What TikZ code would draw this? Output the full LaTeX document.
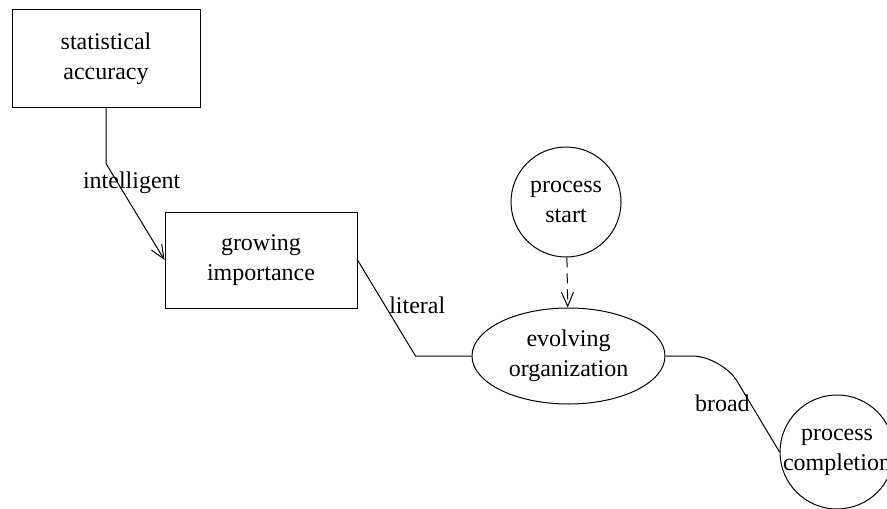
\documentclass[tikz,border=0pt]{standalone}
\usepackage{fontspec}
\setmainfont{Liberation Serif}
\usetikzlibrary{arrows.meta, shapes.geometric, positioning}

\begin{document}
\begin{tikzpicture}[x=0.5pt, y=-0.5pt, font=\fontsize{12}{15}\selectfont,
    box/.style={draw, rectangle, line width=0.5pt, align=center, minimum width=96pt, minimum height=48pt},
    oval/.style={draw, ellipse, line width=0.5pt, align=center, inner sep=0pt, minimum width=96.5pt, minimum height=48pt},
    round/.style={draw, circle, line width=0.5pt, align=center, inner sep=0pt},
    link/.style={line width=0.5pt},
    tip/.style={-{Straight Barb[length=7pt, width=6pt]}}]
    \useasboundingbox (0,0) rectangle (887,508);

    % Rechtecke
    \node[box, minimum width=94pt, minimum height=48.5pt] (acc) at (106,58.5) {statistical\\accuracy};
    \node[box] (imp) at (261,260) {growing\\importance};

    % Ellipse und Kreise
    \node[oval] (org) at (568.5,356) {evolving\\organization};
    \node[round, minimum size=55pt] (start) at (566,202) {process\\start};
    \node[round, minimum size=57pt, inner sep=-3pt] (done) at (837,452) {process\\completion};

    % Verbindungen
    \draw[link, tip] (acc.south) -- ++(0,56) -- node[pos=0.2, xshift=7pt] {intelligent} (imp.west);
    \draw[link] (imp.east) -- node[pos=0.47, right, inner sep=2pt] {literal} ++(58,96) -- (org.west);
    \draw[link, tip, dash pattern=on 5pt off 3pt] (start) -- (org);
    \draw[link, rounded corners=15pt] (org.east) -- (722,356) -- node[pos=0.49, left, inner sep=0pt] {broad} (done.west);
\end{tikzpicture}
\end{document}
